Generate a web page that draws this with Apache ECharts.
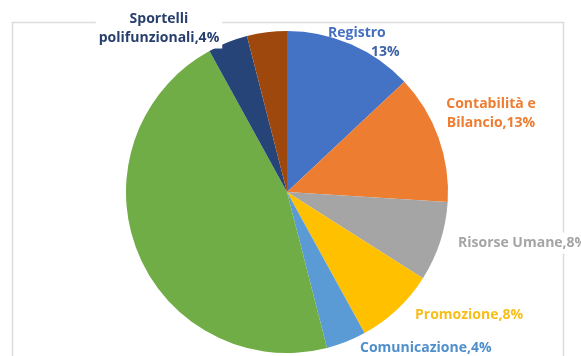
<!DOCTYPE html>
<html>
<head>
<meta charset="utf-8">
<script src="https://cdn.jsdelivr.net/npm/echarts@6/dist/echarts.min.js"></script>
<style>
  html, body { margin: 0; padding: 0; background: #ffffff; }
  #chart { width: 581px; height: 356px; }
</style>
</head>
<body>
<div id="chart"></div>
<script>
// Slice names (line breaks as they appear in the labels)
var categories = [
  'Registro',
  'Contabilità e\nBilancio',
  'Risorse Umane',
  'Promozione',
  'Comunicazione',
  'Altri servizi',
  'Sportelli\npolifunzionali',
  'Altro'
];
// Share of each slice, in percent
var shares = [13, 13, 8, 8, 4, 46, 4, 4];
// Which slices carry a label
var labelled = [true, true, true, true, true, false, true, false];

// Office palette for the slices
var sliceColors = ['#4472C4', '#ED7D31', '#A5A5A5', '#FFC000', '#5B9BD5', '#70AD47', '#264478', '#9E480E'];
var textColors  = ['#4570C0', '#ED7D31', '#A5A5A5', '#F7BE1A', '#4F8FCC', '#70AD47', '#283F6E', '#9E480E'];

// Label anchor points in pixels: [x, y, align]
var labelSpots = [
  [325, 42.5, 'left'],
  [491, 113.5, 'center'],
  [455, 243, 'left'],
  [412, 315, 'left'],
  [357, 348, 'left'],
  null,
  [159, 28.5, 'center'],
  null
];

var chart = echarts.init(document.getElementById('chart'), null, { renderer: 'canvas' });

var pieData = categories.map(function (name, i) {
  var item = {
    name: name,
    value: shares[i],
    itemStyle: { color: sliceColors[i] },
    label: {
      show: labelled[i],
      color: textColors[i],
      backgroundColor: i === 0 ? 'transparent' : '#ffffff',
      padding: [1, 3]
    }
  };
  return item;
});

chart.setOption({
  animation: false,
  backgroundColor: '#ffffff',
  graphic: [{
    type: 'rect',
    z: -10,
    shape: { x: 12.5, y: 22.5, width: 551, height: 400 },
    style: { fill: 'none', stroke: '#dcdcdc', lineWidth: 1.5 }
  }],
  series: [{
    type: 'pie',
    center: [287, 192],
    radius: [0, 161],
    startAngle: 90,
    clockwise: true,
    avoidLabelOverlap: false,
    itemStyle: { borderWidth: 0 },
    emphasis: { disabled: true },
    labelLine: { show: false },
    label: {
      show: true,
      fontFamily: 'Open Sans',
      fontWeight: 'bold',
      fontSize: 14,
      lineHeight: 19,
      formatter: function (p) {
        if (p.dataIndex === 0) {
          return '{a|' + p.name + '}\n{b|' + p.value + '%}';
        }
        return p.name + ',' + p.value + '%';
      },
      rich: {
        a: { fontFamily: 'Open Sans', fontWeight: 'bold', fontSize: 14, lineHeight: 19, color: '#4570C0' },
        b: { fontFamily: 'Open Sans', fontWeight: 'bold', fontSize: 14, lineHeight: 19, color: '#3F63A8', padding: [0, 0, 0, 43] }
      }
    },
    labelLayout: function (params) {
      var spot = labelSpots[params.dataIndex];
      if (!spot) { return {}; }
      return { x: spot[0], y: spot[1], align: spot[2], verticalAlign: 'middle', hideOverlap: false };
    },
    data: pieData
  }]
});
</script>
</body>
</html>
